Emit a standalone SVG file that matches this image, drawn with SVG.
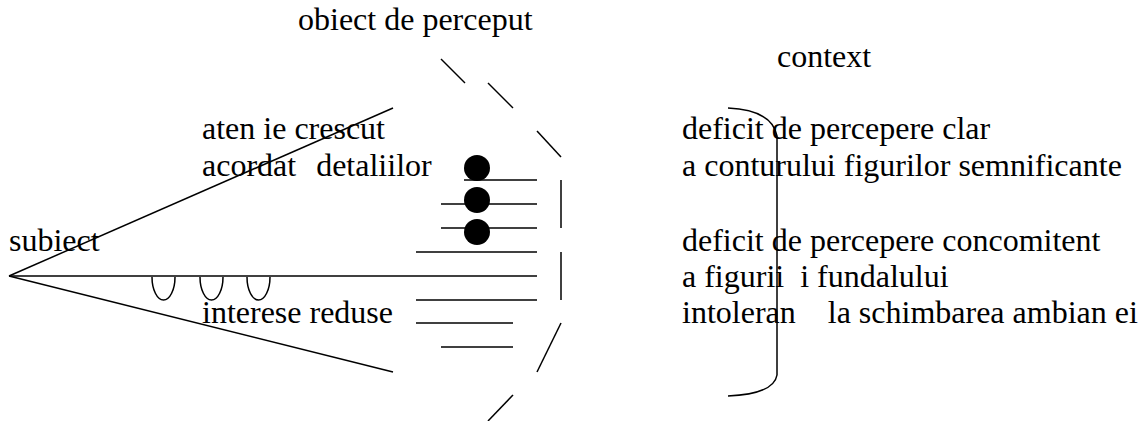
<svg xmlns="http://www.w3.org/2000/svg" width="1140" height="421" viewBox="0 0 1140 421">
<style>
text{font-family:"Liberation Serif","Times New Roman",serif;font-size:32px;fill:#000;white-space:pre}
.ln{stroke:#000;stroke-width:1.5;fill:none}
.dot{fill:#000}
</style>
<rect width="1140" height="421" fill="#fff"/>
<g id="subiect">
<text x="9" y="251">subiect</text>
</g>
<g id="obiect">
<text x="298" y="30">obiect de perceput</text>
</g>
<g id="context-label">
<text x="777" y="67">context</text>
</g>
<g id="atentie">
<text x="202" y="139">aten ie crescut</text>
<text x="202" y="176" xml:space="preserve">acordat  <tspan dx="4">detaliilor</tspan></text>
</g>
<g id="interese">
<text x="202" y="323">interese reduse</text>
</g>
<g id="context-texts">
<text x="682" y="139">deficit de percepere clar</text>
<text x="682" y="176">a conturului figurilor semnificante</text>
<text x="682" y="251">deficit de percepere concomitent</text>
<text x="682" y="287" xml:space="preserve">a figurii  i fundalului</text>
<text x="682" y="323" xml:space="preserve">intoleran    la schimbarea ambian ei</text>
</g>
<g id="connectors" class="ln">
<line x1="9" y1="276" x2="393" y2="108"/>
<line x1="9" y1="276" x2="537" y2="276"/>
<line x1="9" y1="276" x2="393" y2="372"/>
<line x1="464" y1="180" x2="537" y2="180"/>
<line x1="441" y1="204" x2="537" y2="204"/>
<line x1="441" y1="228" x2="537" y2="228"/>
<line x1="416" y1="252" x2="537" y2="252"/>
<line x1="416" y1="300" x2="537" y2="300"/>
<line x1="416" y1="323" x2="513" y2="323"/>
<line x1="441" y1="347" x2="513" y2="347"/>
<path d="M152,277 A11.5,23 0 0 0 175,277"/>
<path d="M200,277 A11.5,23 0 0 0 223,277"/>
<path d="M247,277 A11.5,23 0 0 0 270,277"/>
<line x1="441" y1="59" x2="465" y2="83"/>
<line x1="488" y1="83" x2="513" y2="108"/>
<line x1="537" y1="131" x2="561" y2="157"/>
<line x1="561" y1="180" x2="561" y2="228"/>
<line x1="561" y1="252" x2="561" y2="300"/>
<line x1="561" y1="323" x2="537" y2="372"/>
<line x1="513" y1="395" x2="488" y2="421"/>
<path d="M728,108 Q772,110 777,136 L777,375 Q774,394 728,396"/>
</g>
<g id="dots">
<circle class="dot" cx="477" cy="168" r="13"/>
<circle class="dot" cx="477" cy="200" r="13"/>
<circle class="dot" cx="477" cy="232" r="13"/>
</g>
</svg>
